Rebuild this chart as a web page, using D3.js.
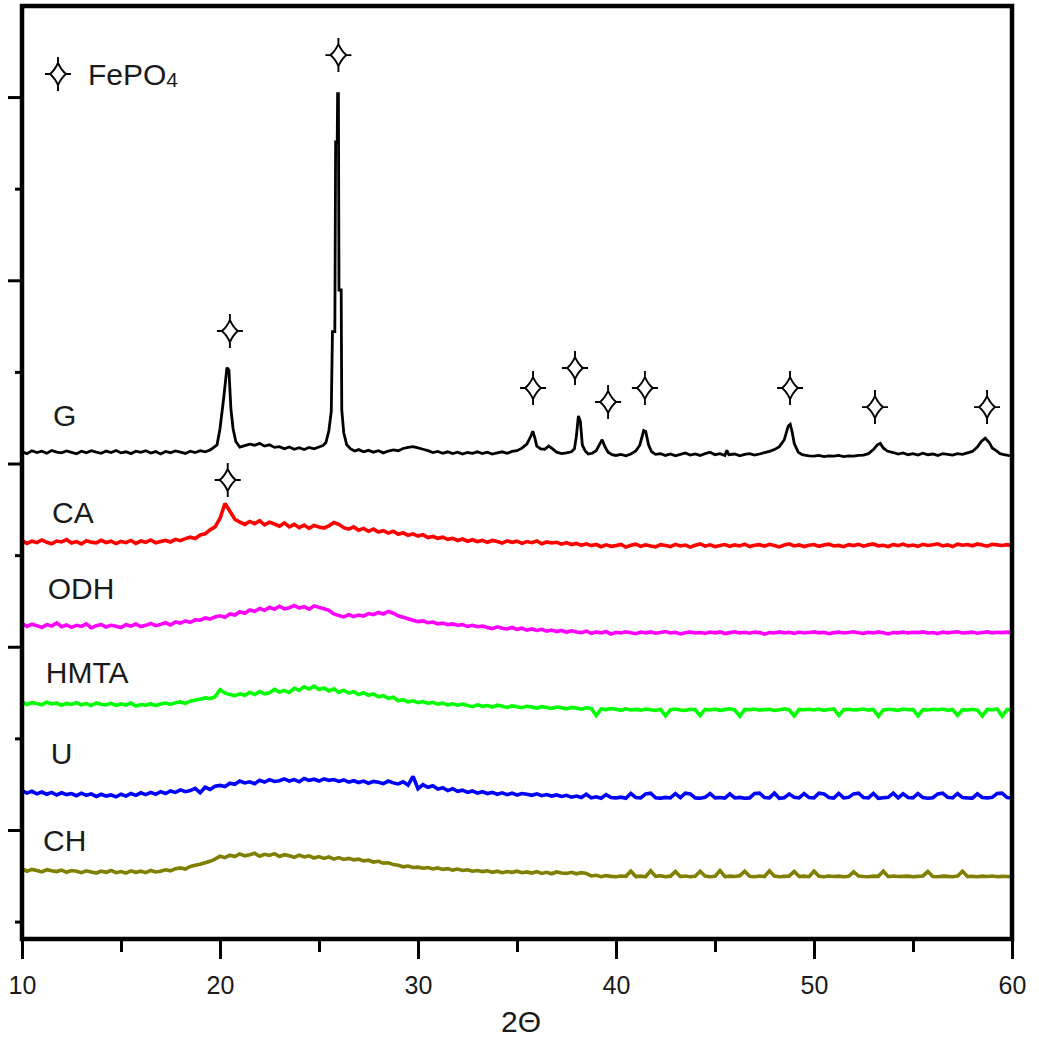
<!DOCTYPE html>
<html>
<head>
<meta charset="utf-8">
<script src="https://cdnjs.cloudflare.com/ajax/libs/d3/7.8.5/d3.min.js"></script>
<style>
body { margin: 0; background: #fff; }
text { font-family: "Liberation Sans", Arial, sans-serif; }
</style>
</head>
<body>
<div id="chart"></div>
<script>
// XRD patterns, stacked. intensity in a.u., 2-theta in degrees
var seriesNames = ["G", "CA", "ODH", "HMTA", "U", "CH"];
var seriesColors = ["#000000", "#ff0000", "#ff00ff", "#00ff00", "#0000ff", "#808000"];
var offsets = [3040, 2550, 2075, 1655, 1175, 745];

var xTicks = [10, 20, 30, 40, 50, 60];
var xMinor = [15, 25, 35, 45, 55];
var yTicks = [1000, 2000, 3000, 4000, 5000];
var yMinor = [500, 1500, 2500, 3500, 4500];

// G measured as [2theta, intensity] because of the sharp peaks
var gPoints = [
  [10,24],[10.25,14],[10.5,30],[10.75,20],[11,27],[11.25,16],[11.5,31],[11.75,22],[12,18],[12.25,29],
  [12.5,21],[12.75,13],[13,27],[13.25,19],[13.5,30],[13.75,22],[14,16],[14.25,28],[14.5,20],[14.75,31],
  [15,18],[15.25,24],[15.5,14],[15.75,27],[16,21],[16.25,30],[16.5,17],[16.75,25],[17,12],[17.25,26],
  [17.5,19],[17.75,29],[18,22],[18.25,15],[18.5,27],[18.75,20],[19,30],[19.25,24],[19.5,34],[19.65,46],
  [19.85,62],[20,150],[20.2,330],[20.35,483],[20.45,470],[20.55,260],[20.66,150],[20.8,80],[21,50],[21.25,58],
  [21.5,66],[21.75,60],[22,70],[22.25,55],[22.5,62],[22.75,48],[23,52],[23.25,40],[23.5,50],[23.75,38],
  [24,46],[24.25,36],[24.5,48],[24.75,40],[25,50],[25.2,58],[25.35,75],[25.5,140],[25.62,245],[25.68,680],
  [25.8,680],[25.84,1715],[25.92,1715],[25.94,1978],[25.98,1978],[26.01,907],[26.12,907],[26.15,253],[26.25,128],[26.4,62],
  [26.6,40],[26.8,28],[27,36],[27.25,24],[27.5,32],[27.75,22],[28,30],[28.25,18],[28.5,28],[28.75,34],
  [29,30],[29.25,42],[29.5,48],[29.75,52],[30,45],[30.25,38],[30.5,30],[30.75,20],[31,26],[31.25,16],
  [31.5,24],[31.75,14],[32,22],[32.25,12],[32.5,20],[32.75,16],[33,24],[33.25,14],[33.5,22],[33.75,12],
  [34,18],[34.25,24],[34.5,16],[34.75,26],[35,30],[35.25,44],[35.5,66],[35.7,110],[35.8,136],[35.9,100],
  [36,55],[36.2,40],[36.4,38],[36.6,55],[36.8,40],[37,22],[37.25,14],[37.5,18],[37.75,24],[37.9,40],
  [38,110],[38.1,220],[38.2,190],[38.3,60],[38.45,28],[38.6,12],[38.8,16],[39,30],[39.15,60],[39.3,90],
  [39.45,50],[39.6,22],[39.8,8],[40,4],[40.25,10],[40.5,2],[40.75,12],[41,28],[41.2,60],[41.4,140],
  [41.5,135],[41.65,60],[41.8,24],[42,10],[42.25,14],[42.5,4],[42.75,12],[43,2],[43.25,10],[43.5,18],
  [43.75,6],[44,12],[44.25,4],[44.5,14],[44.75,22],[45,8],[45.25,14],[45.5,4],[45.6,32],[45.7,8],
  [46,12],[46.25,2],[46.5,10],[46.75,14],[47,6],[47.25,12],[47.5,20],[47.75,26],[48,36],[48.25,52],
  [48.5,90],[48.7,165],[48.8,174],[48.9,130],[49,70],[49.2,22],[49.4,8],[49.75,2],[50,0],[50.25,4],
  [50.5,-2],[50.75,2],[51,0],[51.25,4],[51.5,-2],[51.75,2],[52,0],[52.25,4],[52.5,6],[52.75,14],
  [53,36],[53.2,62],[53.35,70],[53.5,45],[53.7,28],[54,20],[54.25,12],[54.5,18],[54.75,8],[55,14],
  [55.25,6],[55.5,16],[55.75,8],[56,12],[56.25,4],[56.5,14],[56.75,10],[57,6],[57.25,14],[57.5,10],
  [57.75,18],[58,26],[58.25,50],[58.45,80],[58.65,98],[58.85,75],[59,45],[59.2,30],[59.4,14],[59.6,8],
  [59.8,4],[60,2]
];

// the other patterns: one value every 0.25 deg from 10 to 60
var thetaStart = 10, thetaStep = 0.25;

var caValues = [
  30,14,26,18,33,20,12,27,22,35,16,24,11,29,21,17,31,19,26,13,
  25,18,30,14,27,20,33,17,24,30,22,36,29,40,48,41,60,66,88,104,
  150,232,190,146,130,118,134,122,138,115,130,120,108,126,104,118,100,114,96,112,
  104,98,110,128,118,100,92,104,86,96,80,92,76,84,70,80,64,72,58,66,
  54,62,46,52,42,48,36,42,30,38,26,34,24,31,20,30,24,16,28,20,
  26,14,24,18,27,12,22,16,20,10,18,8,14,4,12,2,8,-4,6,-2,
  2,8,-6,4,10,-2,6,0,-5,7,3,-3,9,0,5,-6,4,11,-1,6,
  -4,3,8,-2,6,0,10,-3,4,7,-1,9,2,-5,5,12,0,6,-3,4,
  8,-2,5,10,0,3,-4,7,2,9,-1,6,11,1,4,-3,8,2,10,0,
  5,-2,9,3,7,12,0,6,-3,10,4,8,1,11,5,-1,9,6,3,7,
  2
];

var odhValues = [
  52,36,48,40,30,46,38,55,34,44,31,42,36,50,28,40,46,33,42,37,
  30,45,38,49,35,42,52,40,47,56,44,60,54,66,58,72,70,82,76,88,
  94,86,104,98,116,108,126,118,134,124,140,130,146,132,138,150,136,144,130,148,
  140,132,124,104,95,88,100,90,98,92,106,100,112,104,118,108,94,86,78,70,
  62,66,56,60,50,54,46,50,42,46,36,42,34,38,30,24,34,26,22,30,
  20,26,16,22,14,20,10,16,8,14,4,12,6,2,10,-2,6,0,8,-6,
  4,0,7,2,-4,5,1,6,-1,3,8,0,4,-5,2,6,0,3,-2,5,
  1,6,-3,2,7,0,4,-1,5,2,-6,3,0,6,1,4,-2,5,0,3,
  6,1,4,-4,2,5,0,3,7,1,-2,4,0,6,2,-5,3,1,5,0,
  4,2,6,0,3,-3,5,1,4,7,0,2,5,-1,3,6,1,4,2,5,
  3
];

var hmtaValues = [
  44,30,40,35,28,42,33,38,26,36,30,40,28,35,24,38,31,27,36,25,
  33,27,38,22,30,26,34,24,32,38,30,40,44,36,48,54,58,66,62,72,
  110,92,84,78,88,80,96,84,100,88,94,112,98,106,96,118,108,126,114,130,
  112,120,104,116,96,108,92,100,84,94,80,88,72,78,64,70,50,56,44,50,
  40,46,36,42,32,38,28,34,26,32,24,18,28,20,24,16,26,20,14,22,
  18,12,20,16,10,18,14,8,16,12,6,14,10,4,12,8,-30,6,2,8,
  4,-2,6,0,3,-1,5,1,-3,4,-32,2,5,0,-2,4,1,-30,3,0,
  5,-2,2,6,0,-34,3,1,5,-1,2,4,-3,1,6,0,-32,3,1,4,
  0,5,-2,3,6,-30,1,4,0,2,5,-1,3,-34,0,4,2,-2,5,1,
  3,-32,2,0,4,1,5,-2,3,-30,2,0,4,-1,-32,3,1,5,-34,2,
  1
];

var uValues = [
  40,26,36,22,32,20,30,16,28,18,24,12,26,14,22,8,20,10,16,6,
  20,10,24,14,28,18,30,20,34,24,38,30,44,34,40,52,28,58,46,64,
  68,62,80,74,92,82,88,78,96,86,100,90,94,104,92,100,88,106,96,102,
  92,104,96,100,90,98,86,94,84,92,80,90,86,78,92,82,76,88,70,118,
  50,72,58,66,48,56,40,50,36,42,30,38,26,34,24,30,20,28,18,26,
  16,24,20,14,22,12,18,10,16,8,14,4,10,2,20,0,6,-2,18,2,
  0,4,-2,24,2,0,22,26,1,-2,3,0,24,2,26,22,0,-2,3,24,
  0,2,-1,22,0,3,-2,0,24,26,2,0,26,-2,1,22,3,0,24,2,
  0,26,22,2,-1,24,0,3,22,26,2,0,24,-2,1,3,26,0,22,2,
  0,24,2,-2,1,22,26,3,0,24,2,0,-1,22,2,0,3,24,26,2,
  0
];

var chValues = [
  44,30,40,34,26,38,32,28,36,24,34,30,22,32,26,20,30,24,34,22,
  28,20,32,24,30,22,34,26,30,38,32,44,48,42,56,62,68,76,84,96,
  112,104,118,110,124,114,120,128,112,122,116,126,110,120,114,106,118,108,114,102,
  110,100,108,96,104,94,100,92,96,86,90,80,84,74,76,66,62,54,58,50,
  52,46,50,42,48,40,44,36,42,34,38,30,34,28,32,24,30,22,28,24,
  30,22,26,20,28,18,24,16,26,20,18,24,16,22,18,4,8,0,6,2,
  0,4,2,30,1,3,0,32,2,5,0,3,28,1,4,0,2,30,3,0,
  2,34,0,3,1,5,30,2,0,4,1,32,3,0,2,4,28,1,3,0,
  30,2,0,4,1,3,0,2,26,4,1,0,3,2,30,0,4,1,2,3,
  0,2,4,28,1,0,3,2,0,4,30,1,2,0,3,1,4,0,2,1,
  0
];

// where the names sit, [2theta, a.u.]
var labelAt = [[11.57, 3205], [11.52, 2675], [11.3, 2261], [11.2, 1802], [11.45, 1360], [11.06, 885]];

// FePO4 markers, [2theta, a.u.]
var starAt = [
  [25.98, 5229], [20.5, 3723], [20.39, 2910], [35.81, 3412], [37.93, 3521], [39.6, 3336],
  [41.46, 3412], [48.79, 3412], [53.08, 3308], [58.74, 3308]
];

var W = 1039, H = 1040;
var plotL = 22, plotR = 1012, plotT = 6, plotB = 939;

var svg = d3.select("#chart").append("svg")
    .attr("width", W)
    .attr("height", H);

var x = d3.scaleLinear().domain([10, 60]).range([plotL, plotR]);
var y = d3.scaleLinear().domain([405, 5497]).range([plotB, plotT]);

var line = d3.line()
    .x(function(d) { return x(d[0]); })
    .y(function(d) { return y(d[1]); });

var gridSeries = [caValues, odhValues, hmtaValues, uValues, chValues];

// draw bottom pattern first so G ends up on top
for (var s = gridSeries.length - 1; s >= 0; s--) {
    var off = offsets[s + 1];
    var pts = gridSeries[s].map(function(v, i) { return [thetaStart + i * thetaStep, off + v]; });
    svg.append("path")
        .datum(pts)
        .attr("d", line)
        .attr("fill", "none")
        .attr("stroke", seriesColors[s + 1])
        .attr("stroke-width", 3.6)
        .attr("stroke-linejoin", "miter")
        .attr("stroke-miterlimit", 2);
}

svg.append("path")
    .datum(gPoints.map(function(p) { return [p[0], offsets[0] + p[1]]; }))
    .attr("d", line)
    .attr("fill", "none")
    .attr("stroke", seriesColors[0])
    .attr("stroke-width", 2.8)
    .attr("stroke-miterlimit", 2);

// series names
for (var i = 0; i < seriesNames.length; i++) {
    svg.append("text")
        .attr("x", x(labelAt[i][0]))
        .attr("y", y(labelAt[i][1]))
        .attr("font-size", 30)
        .attr("fill", "#1a1a1a")
        .text(seriesNames[i]);
}

// four pointed star marker
var starPath = "M0,-17 L0,-11 Q3.5,-3.5 8,0 L13,0 M8,0 Q3.5,3.5 0,11 L0,17 M0,11 Q-3.5,3.5 -8,0 L-13,0 M-8,0 Q-3.5,-3.5 0,-11";
var starFill = "M0,-11 Q3.5,-3.5 8,0 Q3.5,3.5 0,11 Q-3.5,3.5 -8,0 Q-3.5,-3.5 0,-11 Z";

function drawStar(cx, cy) {
    var g = svg.append("g").attr("transform", "translate(" + cx + "," + cy + ")");
    g.append("path").attr("d", starFill).attr("fill", "#fff").attr("stroke", "none");
    g.append("path").attr("d", starPath).attr("fill", "none")
        .attr("stroke", "#000").attr("stroke-width", 1.9);
}

starAt.forEach(function(p) { drawStar(x(p[0]), y(p[1])); });

// legend
drawStar(58, 74);
var leg = svg.append("text")
    .attr("x", 88)
    .attr("y", 85)
    .attr("font-size", 30)
    .attr("fill", "#1a1a1a")
    .text("FePO");
leg.append("tspan").attr("font-size", 21).attr("dy", 2).text("4");

// axes
var xAxis = svg.append("g").attr("transform", "translate(0," + plotB + ")")
    .call(d3.axisBottom(x).tickValues(xTicks).tickSize(20).tickFormat(d3.format("d")));
svg.append("g").attr("transform", "translate(0," + plotB + ")")
    .call(d3.axisBottom(x).tickValues(xMinor).tickSize(13).tickFormat(""));
svg.append("g").attr("transform", "translate(" + plotL + ",0)")
    .call(d3.axisLeft(y).tickValues(yTicks).tickSize(14).tickFormat(""));
svg.append("g").attr("transform", "translate(" + plotL + ",0)")
    .call(d3.axisLeft(y).tickValues(yMinor).tickSize(7).tickFormat(""));

svg.selectAll(".domain").remove();
svg.selectAll(".tick line").attr("stroke", "#000").attr("stroke-width", 3);
xAxis.selectAll(".tick text")
    .attr("y", 55)
    .attr("dy", 0)
    .attr("font-size", 25)
    .attr("font-family", "Liberation Sans, Arial, sans-serif")
    .attr("fill", "#1a1a1a");

// frame
svg.append("rect")
    .attr("x", plotL)
    .attr("y", plotT)
    .attr("width", plotR - plotL)
    .attr("height", plotB - plotT)
    .attr("fill", "none")
    .attr("stroke", "#000")
    .attr("stroke-width", 4.5);

svg.append("text")
    .attr("x", 521)
    .attr("y", 1032)
    .attr("text-anchor", "middle")
    .attr("font-size", 30)
    .attr("fill", "#1a1a1a")
    .text("2\u0398");
</script>
</body>
</html>
